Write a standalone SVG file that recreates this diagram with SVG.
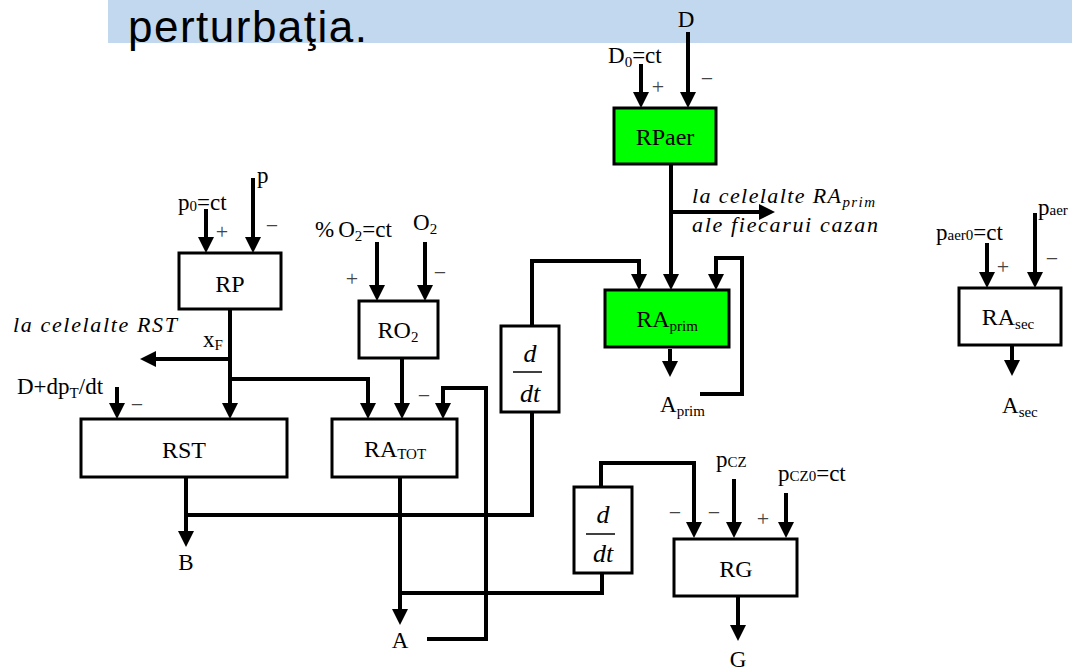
<svg xmlns="http://www.w3.org/2000/svg" width="1072" height="670" viewBox="0 0 1072 670">
<style>
.ln{fill:none;stroke:#000;stroke-width:4;marker-end:url(#ah)}
.pl{fill:none;stroke:#000;stroke-width:4}
.box{fill:#fff;stroke:#000;stroke-width:3}
.gbox{fill:#00ff00;stroke:#000;stroke-width:3}
.t{font-family:"Liberation Serif","Times New Roman",serif;font-size:23px;fill:#000}
.bl{font-family:"Liberation Serif","Times New Roman",serif;font-size:24px;fill:#000;text-anchor:middle}
.it{font-family:"Liberation Serif","Times New Roman",serif;font-size:22px;font-style:italic;fill:#000}
.fr{font-family:"Liberation Serif","Times New Roman",serif;font-size:26px;font-style:italic;fill:#000;text-anchor:middle}
.sg{font-family:"Liberation Serif","Times New Roman",serif;font-size:22px;fill:#444;text-anchor:middle}
.sub{font-size:15px}
</style>
<defs>
<marker id="ah" markerWidth="16" markerHeight="16" refX="8" refY="8" orient="auto" markerUnits="userSpaceOnUse"><path d="M0,0 L16,8 L0,16 z" fill="#000"/></marker>
</defs>

<g id="title">
<rect x="108" y="0" width="964" height="43" fill="#c2d8ee"/>
<text x="128" y="42" font-family="'Liberation Sans',Arial,sans-serif" font-size="44" textLength="239" fill="#000">perturbaţia.</text>
</g>

<g id="connectors">
<line class="ln" x1="688" y1="32" x2="688" y2="100"/>
<line class="ln" x1="641" y1="64" x2="641" y2="100"/>
<line class="ln" x1="671" y1="164" x2="671" y2="282"/>
<line class="ln" x1="671" y1="212" x2="767" y2="212"/>
<polyline class="ln" points="532,326 532,261 639,261 639,282"/>
<polyline class="ln" points="700,394 742,394 742,258 716,258 716,282"/>
<line class="ln" x1="670" y1="349" x2="670" y2="369"/>
<line class="ln" x1="253" y1="178" x2="253" y2="245"/>
<line class="ln" x1="206" y1="209" x2="206" y2="245"/>
<line class="ln" x1="230" y1="309" x2="230" y2="411"/>
<line class="ln" x1="230" y1="359" x2="148" y2="359"/>
<polyline class="ln" points="230,379 368,379 368,411"/>
<line class="ln" x1="117" y1="387" x2="117" y2="411"/>
<line class="ln" x1="377" y1="242" x2="377" y2="293"/>
<line class="ln" x1="425" y1="242" x2="425" y2="293"/>
<line class="ln" x1="402" y1="358" x2="402" y2="411"/>
<polyline class="ln" points="427,639 486,639 486,388 443,388 443,411"/>
<polyline class="pl" points="532,412 532,515 186,515"/>
<line class="ln" x1="186" y1="477" x2="186" y2="539"/>
<line class="ln" x1="400" y1="477" x2="400" y2="617"/>
<polyline class="pl" points="602,573 602,593 400,593"/>
<polyline class="ln" points="601,487 601,463 694,463 694,530"/>
<line class="ln" x1="734" y1="479" x2="734" y2="530"/>
<line class="ln" x1="786" y1="493" x2="786" y2="530"/>
<line class="ln" x1="738" y1="596" x2="738" y2="633"/>
<line class="ln" x1="987" y1="243" x2="987" y2="280"/>
<line class="ln" x1="1035" y1="213" x2="1035" y2="280"/>
<line class="ln" x1="1012" y1="345" x2="1012" y2="368"/>
</g>

<g id="RPaer">
<rect class="gbox" x="614" y="108" width="102" height="56"/>
<text class="bl" x="665" y="145">RPaer</text>
</g>
<g id="RAprim">
<rect class="gbox" x="605" y="290" width="124" height="57"/>
<text class="bl" x="667" y="327">RA<tspan class="sub" dy="4">prim</tspan></text>
</g>
<g id="RP">
<rect class="box" x="179" y="253" width="102" height="56"/>
<text class="bl" x="230" y="292">RP</text>
</g>
<g id="RO2">
<rect class="box" x="359" y="301" width="79" height="57"/>
<text class="bl" x="398" y="338">RO<tspan class="sub" dy="4">2</tspan></text>
</g>
<g id="RST">
<rect class="box" x="81" y="419" width="206" height="58"/>
<text class="bl" x="184" y="458">RST</text>
</g>
<g id="RATOT">
<rect class="box" x="332" y="419" width="125" height="58"/>
<text class="bl" x="395" y="457">RA<tspan class="sub" dy="2">TOT</tspan></text>
</g>
<g id="ddt1">
<rect class="box" x="501" y="326" width="58" height="86"/>
<text class="fr" x="530" y="362">d</text>
<line x1="513" y1="372" x2="542" y2="372" stroke="#000" stroke-width="1.5"/>
<text class="fr" x="530" y="402">dt</text>
</g>
<g id="ddt2">
<rect class="box" x="574" y="487" width="58" height="86"/>
<text class="fr" x="603" y="523">d</text>
<line x1="586" y1="534" x2="615" y2="534" stroke="#000" stroke-width="1.5"/>
<text class="fr" x="603" y="562">dt</text>
</g>
<g id="RG">
<rect class="box" x="674" y="539" width="123" height="57"/>
<text class="bl" x="736" y="577">RG</text>
</g>
<g id="RAsec">
<rect class="box" x="959" y="288" width="102" height="57"/>
<text class="bl" x="1008" y="325">RA<tspan class="sub" dy="4">sec</tspan></text>
</g>

<g id="labels">
<text class="t" x="686" y="27" text-anchor="middle">D</text>
<text class="t" x="608" y="63">D<tspan class="sub" dy="4">0</tspan><tspan dy="-4">=ct</tspan></text>
<text class="sg" x="658" y="94">+</text>
<text class="sg" x="707" y="86">−</text>
<text class="it" x="692" y="203" textLength="183">la celelalte RA<tspan class="sub" dy="4">prim</tspan></text>
<text class="it" x="692" y="232" textLength="186">ale fiecarui cazan</text>
<text class="t" x="660" y="412">A<tspan class="sub" dy="4">prim</tspan></text>

<text class="t" x="257" y="183">p</text>
<text class="t" x="178" y="210">p<tspan class="sub" dy="1">0</tspan><tspan dy="-1">=ct</tspan></text>
<text class="sg" x="222" y="239">+</text>
<text class="sg" x="272" y="233">−</text>
<text class="it" x="13" y="332" textLength="164">la celelalte RST</text>
<text class="t" x="203" y="347">x<tspan class="sub" dy="3">F</tspan></text>
<text class="t" x="17" y="394">D+dp<tspan class="sub" dy="4">T</tspan><tspan dy="-4">/dt</tspan></text>
<text class="sg" x="137" y="412">−</text>

<text class="t" x="315" y="237">%<tspan dx="4">O</tspan><tspan class="sub" dy="4">2</tspan><tspan dy="-4">=ct</tspan></text>
<text class="t" x="413" y="230">O<tspan class="sub" dy="4">2</tspan></text>
<text class="sg" x="352" y="286">+</text>
<text class="sg" x="440" y="280">−</text>
<text class="sg" x="424" y="403">−</text>

<text class="t" x="186" y="570" text-anchor="middle">B</text>
<text class="t" x="400" y="648" text-anchor="middle">A</text>

<text class="t" x="716" y="467">p<tspan class="sub">CZ</tspan></text>
<text class="t" x="778" y="481">p<tspan class="sub">CZ0</tspan>=ct</text>
<text class="sg" x="675" y="520">−</text>
<text class="sg" x="714" y="520">−</text>
<text class="sg" x="763" y="526">+</text>
<text class="t" x="738" y="667" text-anchor="middle">G</text>

<text class="t" x="1038" y="215">p<tspan class="sub">aer</tspan></text>
<text class="t" x="936" y="240">p<tspan class="sub">aer0</tspan>=ct</text>
<text class="sg" x="1003" y="274">+</text>
<text class="sg" x="1052" y="266">−</text>
<text class="t" x="1002" y="413">A<tspan class="sub" dy="4">sec</tspan></text>
</g>
</svg>
